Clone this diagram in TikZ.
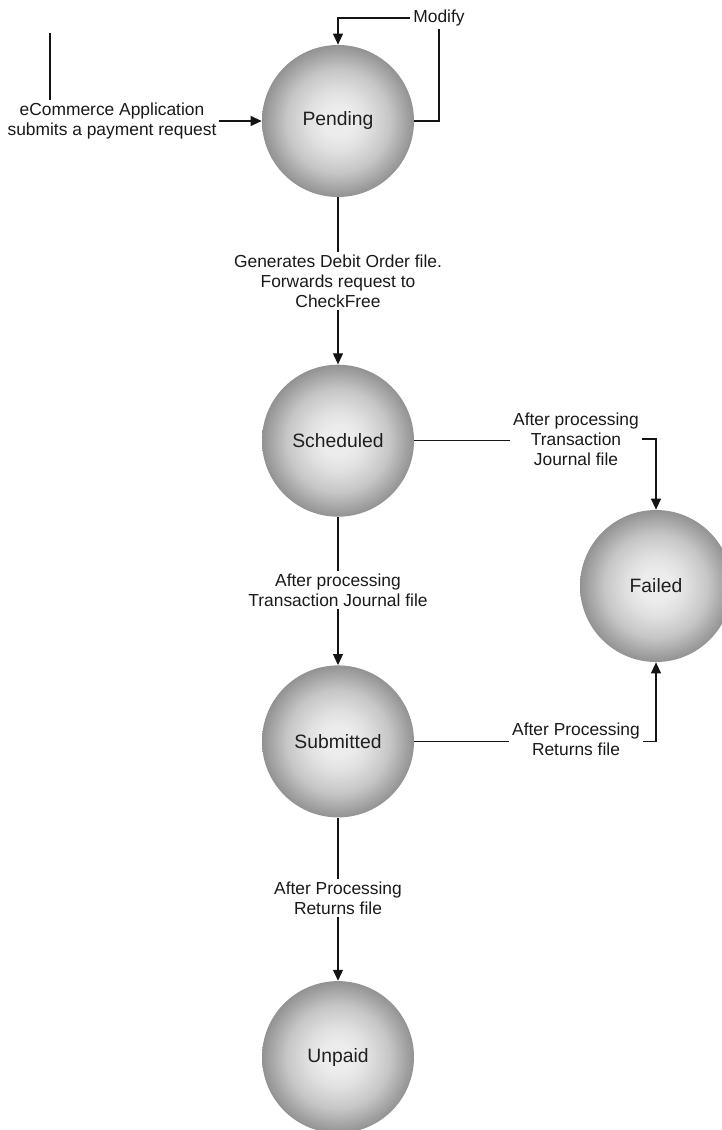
\documentclass[tikz,border=0pt]{standalone}
\usepackage{fontspec}
\setmainfont{Liberation Sans}
\usetikzlibrary{arrows.meta,positioning,calc}
\definecolor{statelight}{RGB}{236,236,236}
\definecolor{statesoft}{RGB}{224,224,224}
\definecolor{statemid}{RGB}{198,198,198}
\definecolor{statedark}{RGB}{146,146,146}
\definecolor{lineblack}{RGB}{20,20,20}
\pgfdeclareradialshading{statefill}{\pgfpointorigin}{%
  color(0bp)=(statelight); color(5bp)=(statelight); color(10bp)=(statesoft);
  color(17bp)=(statemid); color(25bp)=(statedark); color(50bp)=(statedark)}
\tikzset{
  state/.style={circle, minimum size=3.04cm, inner sep=0pt,
    shading=statefill, text=black!88,
    font=\fontsize{11}{13}\selectfont},
  note/.style={align=center, inner sep=1.5pt, text=black!90,
    font=\fontsize{9.9}{11.4}\selectfont},
  line/.style={draw=lineblack, line width=0.6pt},
  flow/.style={line, -{Triangle[length=2.2mm,width=2mm]}}
}
\begin{document}
\begin{tikzpicture}[node distance=3.3cm]
      \useasboundingbox (0,0) rectangle (14.42,-22.6);
      % states
      \node[state] (pending) at (6.76,-2.42) {Pending};
      \node[state, below=3.34cm of pending] (scheduled) {Scheduled};
      \node[state, below=2.96cm of scheduled] (submitted) {Submitted};
      \node[state, below=3.26cm of submitted] (unpaid) {Unpaid};
      \node[state] (failed) at (13.12,-11.72) {Failed};
      % labels
      \node[note] (ecom) at (2.24,-2.42) {eCommerce Application\\submits a payment request};
      \coordinate (ecomtop) at (1.0,-0.66);
      \node[note] (modify) at (8.78,-0.36) {Modify};
      \node[note] (debit) at (6.76,-5.62) {Generates Debit Order file.\\Forwards request to\\CheckFree};
      \node[note] (journalright) at (11.52,-8.78) {After processing\\Transaction\\Journal file};
      \node[note] (journaldown) at (6.76,-11.8) {After processing\\Transaction Journal file};
      \node[note] (returnsright) at (11.52,-14.78) {After Processing\\Returns file};
      \node[note] (returnsdown) at (6.76,-17.96) {After Processing\\Returns file};
      % connectors
      \draw[line] (ecomtop) -- (ecomtop |- ecom.north);
      \draw[flow] (ecom) -- (pending);
      \draw[line] (pending.east) -| (modify.south);
      \draw[flow] (modify.west) -| (pending.north);
      \draw[line] (pending) -- (debit);
      \draw[flow] (debit) -- (scheduled);
      \draw[line] (scheduled.east) -- (scheduled.east -| journalright.west);
      \draw[flow] (journalright.east) -| (failed.north);
      \draw[line] (scheduled) -- (journaldown);
      \draw[flow] (journaldown) -- (submitted);
      \draw[line] (submitted.east) -- (submitted.east -| returnsright.west);
      \draw[flow] (submitted.east -| returnsright.east) -| (failed.south);
      \draw[line] (submitted) -- (returnsdown);
      \draw[flow] (returnsdown) -- (unpaid);
    \end{tikzpicture}
\end{document}
